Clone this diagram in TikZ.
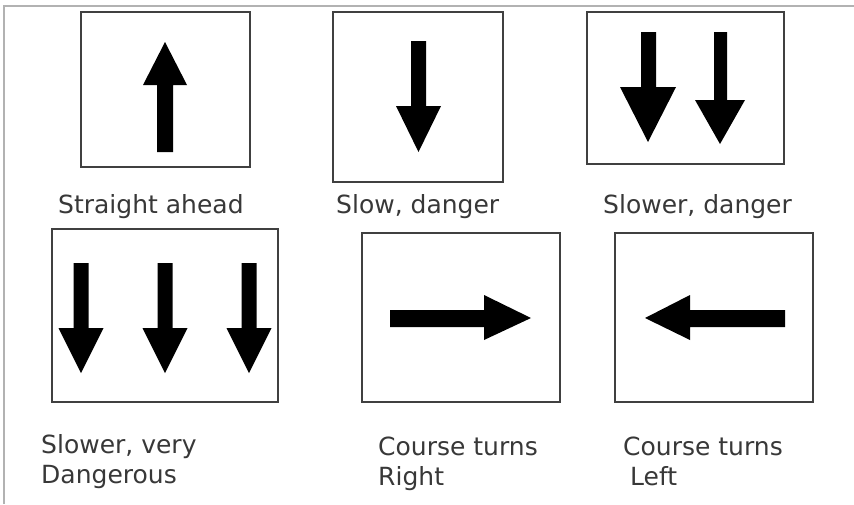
\documentclass[tikz,border=0pt]{standalone}
\usepackage{fontspec}
\setmainfont{DejaVu Sans}
\begin{document}
\begin{tikzpicture}[x=1pt,y=-1pt,
  signbox/.style={draw=black!75,line width=2pt,fill=none},
  sig/.style={fill=black},
  lbl/.style={anchor=base west,inner sep=0pt,align=left,text=black!78,
    font=\fontsize{25}{30}\selectfont},
  frameline/.style={draw=black!30,line width=1.5pt}]
\useasboundingbox (0,0) rectangle (854,504);
\fill[white] (0,0) rectangle (854,504);
% outer frame lines
\coordinate (ftl) at (4,6);
\coordinate (ftr) at (854,6);
\coordinate (fbl) at (4,504);
\draw[frameline] (fbl) -- (ftl) -- (ftr);
% boxes
\path[signbox] (81,12) rectangle (250,167) coordinate (b1);
\path[signbox] (333,12) rectangle (503,182) coordinate (b2);
\path[signbox] (587,12) rectangle (784,164) coordinate (b3);
\path[signbox] (52,229) rectangle (278,402) coordinate (b4);
\path[signbox] (362,233) rectangle (560,402) coordinate (b5);
\path[signbox] (615,233) rectangle (813,402) coordinate (b6);
% box 1: up arrow
\fill[sig] (157,152) -- (157,85) -- (143,85) -- (165,42) -- (187,85) -- (173,85) -- (173,152) -- cycle;
% box 2: down arrow
\fill[sig] (411,41) -- (411,106) -- (396,106) -- (418.5,152) -- (441,106) -- (426,106) -- (426,41) -- cycle;
% box 3: two down arrows
\fill[sig] (641,32) -- (641,87) -- (620,87) -- (648,142) -- (676,87) -- (656,87) -- (656,32) -- cycle;
\fill[sig] (714,32) -- (714,100) -- (695,100) -- (720,144) -- (745,100) -- (727,100) -- (727,32) -- cycle;
% box 4: three down arrows
\foreach \c in {81,165,249}{
  \fill[sig] (\c-7.5,263) -- (\c-7.5,328) -- (\c-22.5,328) -- (\c,373) -- (\c+22.5,328) -- (\c+7.5,328) -- (\c+7.5,263) -- cycle;
}
% box 5: right arrow
\fill[sig] (390,310) -- (484,310) -- (484,295) -- (531,318) -- (484,340) -- (484,327) -- (390,327) -- cycle;
% box 6: left arrow
\fill[sig] (785,310) -- (690,310) -- (690,295) -- (645,318) -- (690,340) -- (690,327) -- (785,327) -- cycle;
% labels
\node[lbl] (l1) at (58,213) {Straight ahead};
\node[lbl] (l2) at (336,213) {Slow, danger};
\node[lbl] (l3) at (603,213) {Slower, danger};
\node[lbl] (l4) at (41,483) {Slower, very\\Dangerous};
\node[lbl] (l5) at (378,485) {Course turns\\Right};
\node[lbl] (l6) at (623,485) {Course turns\\\hspace*{7pt}Left};
\end{tikzpicture}
\end{document}
